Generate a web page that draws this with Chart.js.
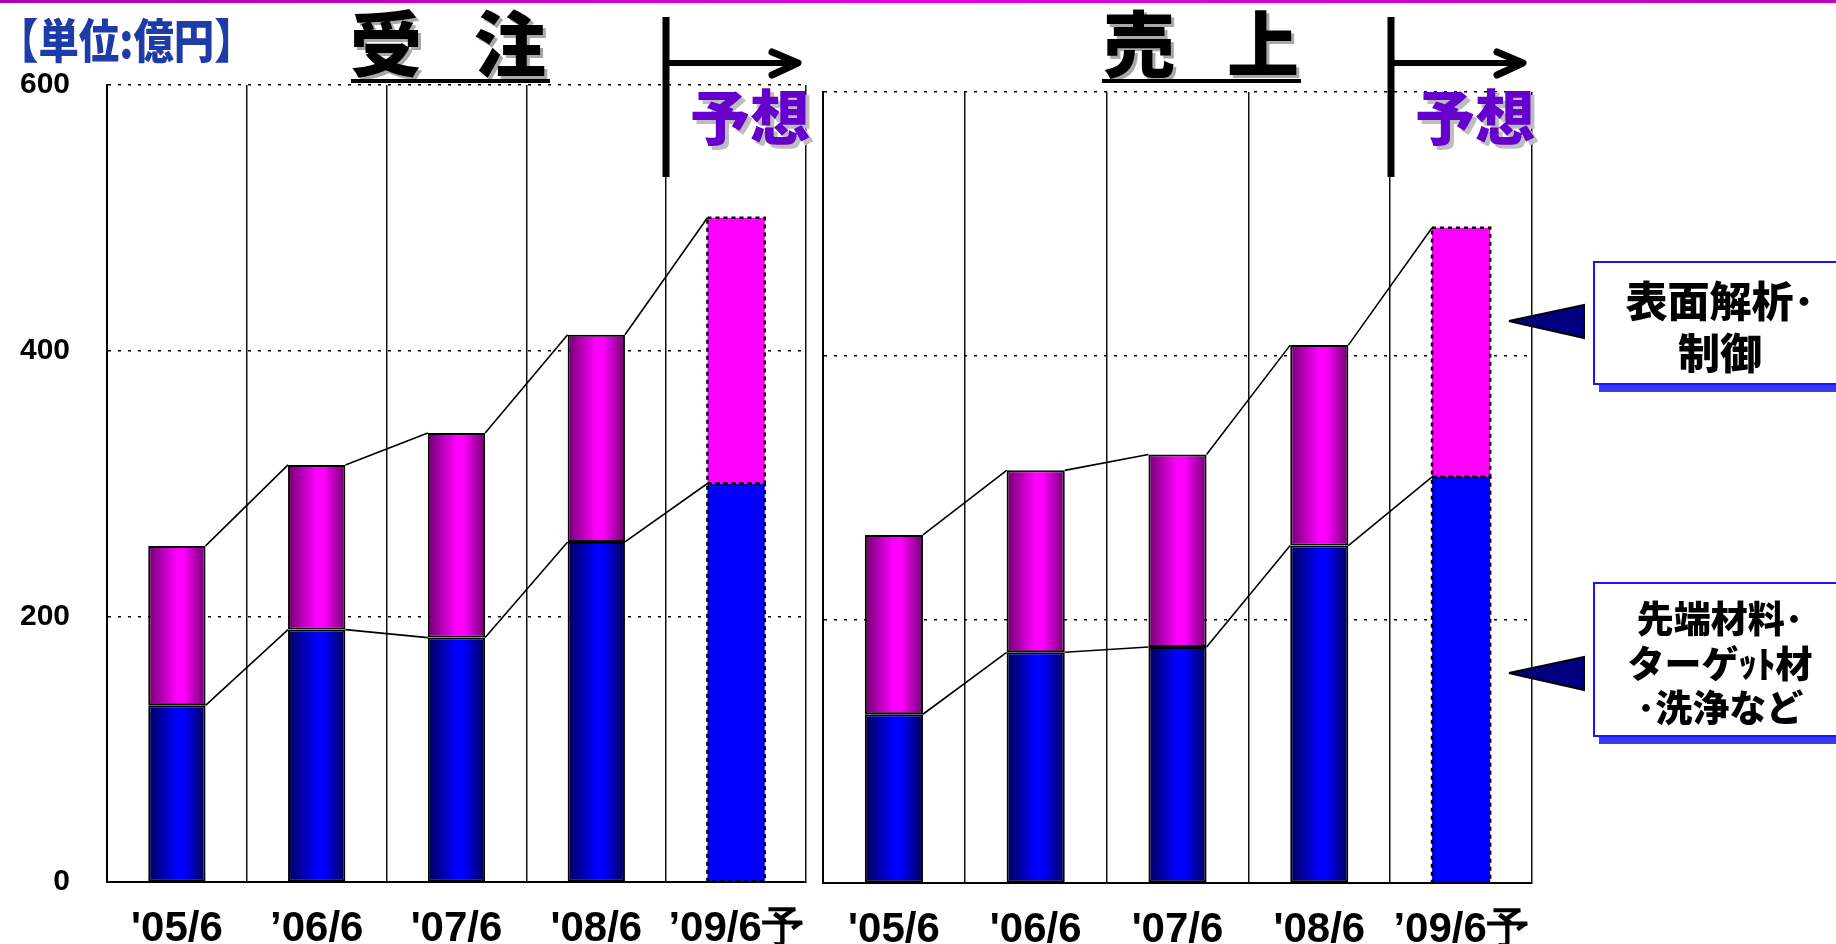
<!DOCTYPE html>
<html lang="ja">
<head>
<meta charset="utf-8">
<title>受注・売上</title>
<script src="https://cdn.jsdelivr.net/npm/chart.js@4.4.1/dist/chart.umd.min.js"></script>
<style>
  html, body { margin: 0; padding: 0; background: #fff; }
  body { width: 1836px; height: 944px; position: relative; overflow: hidden;
         font-family: "Noto Sans CJK JP", "Noto Sans", sans-serif; }
  canvas { position: absolute; top: 0; }
  #ordersChart { left: 0; }
  #salesChart { left: 815px; }
  .abs { position: absolute; white-space: nowrap; }
  #topRule { left: 0; top: 0; width: 1836px; height: 3px;
             background: linear-gradient(90deg, #b000b0, #e400e4 50%, #c000c0); }
  #unit { left: -2px; top: 14px; font-size: 47px; font-weight: 900; line-height: 1;
          color: #1e3ca8; transform: scaleX(0.86); transform-origin: left top; }
  .title { font-size: 72px; font-weight: 900; line-height: 1; color: #000;
           letter-spacing: -10px; text-shadow: 3px 3px 0 #a8a8a8; }
  .rule { height: 4px; background: #000; }
  .forecast { font-size: 60px; font-weight: 900; line-height: 1; color: #6600cc;
              text-shadow: 4px 4px 0 #bdbdbd; }
  .box { border: 2.5px solid #1414ff; background: #fff; box-shadow: 6px 7px 0 #3838f0; }
  .boxText { font-weight: 900; color: #000; text-align: center; width: 254px; }
  svg { position: absolute; left: 0; top: 0; }
</style>
</head>
<body>
<canvas id="ordersChart" width="815" height="944"></canvas>
<canvas id="salesChart" width="725" height="944"></canvas>

<div id="topRule" class="abs"></div>
<div id="unit" class="abs">【単位:億円】</div>

<div class="abs title" style="left:350px; top:4px;">受　注</div>
<div class="abs rule" style="left:351px; top:79px; width:199px;"></div>
<div class="abs title" style="left:1103px; top:4px;">売　上</div>
<div class="abs rule" style="left:1102px; top:79px; width:199px;"></div>

<div class="abs forecast" style="left:690px; top:84px;">予想</div>
<div class="abs forecast" style="left:1415px; top:84px;">予想</div>

<svg width="1836" height="944" viewBox="0 0 1836 944">
  <!-- forecast arrows -->
  <g stroke="#000" fill="none" stroke-linecap="round" stroke-linejoin="round">
    <line x1="666" y1="17" x2="666" y2="177" stroke-width="7" stroke-linecap="butt"/>
    <line x1="666" y1="63" x2="796" y2="63" stroke-width="6"/>
    <polyline points="772,52 798,63 772,75" stroke-width="7"/>
    <line x1="1391" y1="17" x2="1391" y2="177" stroke-width="7" stroke-linecap="butt"/>
    <line x1="1391" y1="63" x2="1521" y2="63" stroke-width="6"/>
    <polyline points="1497,52 1523,63 1497,75" stroke-width="7"/>
  </g>
  <!-- pointers to the legend boxes -->
  <polygon points="1509,321 1584,305 1584,338" fill="#000080" stroke="#000" stroke-width="2"/>
  <polygon points="1509,673 1584,657 1584,690" fill="#000080" stroke="#000" stroke-width="2"/>
</svg>

<div class="abs box" style="left:1593px; top:261px; width:260px; height:120px;"></div>
<div class="abs boxText" style="left:1593px; top:273px; font-size:42px; line-height:52px;">表面解析･<br>制御</div>
<div class="abs box" style="left:1593px; top:582px; width:260px; height:151px;"></div>
<div class="abs boxText" style="left:1593px; top:595px; font-size:37px; line-height:44.5px;">先端材料･<br>ターゲｯﾄ材<br>･洗浄など</div>

<script>
// Fiscal periods (June year-end); the last one is a forecast
const orderPeriods = ["'05/6", "\u201906/6", "'07/6", "'08/6", "\u201909/6予"];
const salesPeriods = ["'05/6", "'06/6", "'07/6", "'08/6", "\u201909/6予"];

// 受注 (orders), 億円
const orderMaterials = [133, 190, 184, 256, 300];   // 先端材料・ターゲット材・洗浄など
const orderAnalysis  = [120, 124, 154, 156, 200];   // 表面解析・制御

// 売上 (sales), 億円
const salesMaterials = [128, 175, 179, 256, 308];
const salesAnalysis  = [136, 138, 146, 152, 189];

const yTickValues = [0, 200, 400, 600];
const forecastIndex = 4;
const seriesNames = ['先端材料・ターゲット材・洗浄など', '表面解析・制御'];

const BAR_PCT = 0.41;

// Cylinder-like horizontal shading for actual bars, flat colour for the forecast
function barFill(dark, bright, flat) {
  return (c) => {
    if (c.type !== 'data' || c.dataIndex === forecastIndex) return flat;
    const ch = c.chart;
    const xs = ch.scales && ch.scales.x;
    if (!xs || !isFinite(xs.width) || xs.width <= 0) return flat;
    const cx = xs.getPixelForValue(c.dataIndex);
    const w = xs.width / ch.data.labels.length * BAR_PCT;
    const g = ch.ctx.createLinearGradient(cx - w / 2, 0, cx + w / 2, 0);
    g.addColorStop(0, dark);
    g.addColorStop(0.5, bright);
    g.addColorStop(0.62, bright);
    g.addColorStop(1, dark);
    return g;
  };
}

// Step lines between bar tops and the dotted outline of the forecast bar
const connectorPlugin = {
  id: 'connectors',
  afterDatasetsDraw(chart) {
    const ctx = chart.ctx;
    ctx.save();
    ctx.strokeStyle = '#000';
    ctx.lineWidth = 1.6;
    chart.data.datasets.forEach((ds, di) => {
      const bars = chart.getDatasetMeta(di).data;
      ctx.beginPath();
      for (let i = 0; i < bars.length - 1; i++) {
        const a = bars[i], b = bars[i + 1];
        ctx.moveTo(a.x + a.width / 2, a.y);
        ctx.lineTo(b.x - b.width / 2, b.y);
      }
      ctx.stroke();
    });
    ctx.setLineDash([4, 4]);
    ctx.lineWidth = 2.5;
    chart.data.datasets.forEach((ds, di) => {
      const b = chart.getDatasetMeta(di).data[forecastIndex];
      const top = Math.min(b.y, b.base), bottom = Math.max(b.y, b.base);
      ctx.strokeRect(b.x - b.width / 2, top, b.width, bottom - top);
    });
    ctx.restore();
  }
};

function makeChart(id, labels, lower, upper, cfg) {
  return new Chart(document.getElementById(id), {
    type: 'bar',
    data: {
      labels: labels,
      datasets: [
        { label: seriesNames[0], data: lower,
          backgroundColor: barFill('#000058', '#0000ff', '#0000ff') },
        { label: seriesNames[1], data: upper,
          backgroundColor: barFill('#700070', '#ff00ff', '#ff00ff') }
      ]
    },
    options: {
      responsive: false,
      animation: false,
      events: [],
      layout: { padding: { top: cfg.top, right: cfg.right, bottom: 0, left: 0 } },
      datasets: {
        bar: {
          categoryPercentage: 1,
          barPercentage: BAR_PCT,
          borderColor: '#000',
          borderWidth: (c) => c.dataIndex === forecastIndex ? 0 : 2,
          borderSkipped: false
        }
      },
      plugins: { legend: { display: false }, tooltip: { enabled: false } },
      scales: {
        x: {
          stacked: true,
          grid: { color: '#111', lineWidth: 1.5, drawTicks: false, offset: true },
          border: { display: true, color: '#000', width: 2 },
          ticks: {
            color: '#000', padding: 22, maxRotation: 0, autoSkip: false,
            font: { family: '"Liberation Sans Narrow", "Arial Narrow", "Liberation Sans", sans-serif',
                    size: 42, weight: 'bold' }
          },
          afterFit: (s) => { s.height = cfg.xHeight; s.paddingLeft = 0; s.paddingRight = 0; }
        },
        y: {
          stacked: true,
          min: 0, max: 600,
          afterBuildTicks: (s) => { s.ticks = yTickValues.map(v => ({ value: v })); },
          grid: {
            color: (c) => c.tick && c.tick.value === 0 ? 'rgba(0,0,0,0)' : '#000',
            lineWidth: 1.5, drawTicks: false
          },
          border: { display: true, color: '#000', width: 2, dash: [3, 7] },
          ticks: {
            display: cfg.showY, color: '#000', padding: 37,
            font: { family: '"Liberation Sans", Arial, sans-serif', size: 30, weight: 'bold' }
          },
          afterFit: (s) => { s.width = cfg.yWidth; s.paddingTop = 0; s.paddingBottom = 0; }
        }
      }
    },
    plugins: [connectorPlugin]
  });
}

makeChart('ordersChart', orderPeriods, orderMaterials, orderAnalysis,
  { top: 85, right: 9, xHeight: 62, yWidth: 107, showY: true });
makeChart('salesChart', salesPeriods, salesMaterials, salesAnalysis,
  { top: 92, right: 8, xHeight: 61, yWidth: 8, showY: false });
</script>
</body>
</html>
